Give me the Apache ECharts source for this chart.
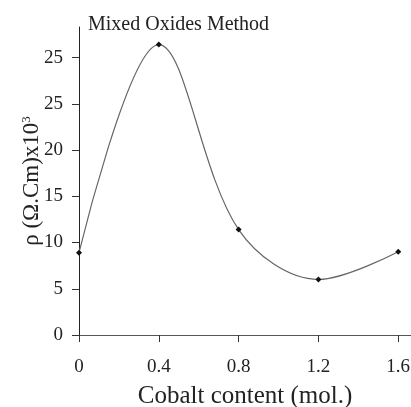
<!DOCTYPE html>
<html lang="en">
<head>
  <meta charset="UTF-8">
  <title>Mixed Oxides Method</title>
  <script src="https://cdnjs.cloudflare.com/ajax/libs/echarts/6.0.0/echarts.min.js"></script>
  <style>
    body { margin: 0; background: #fff; }
  </style>
</head>
<body>
  <div id="main" style="width: 411px;height:407px;"></div>
</body>
<script>
  // cobalt content (mol.)
  var cobalt = [0, 0.4, 0.8, 1.2, 1.6];
  // resistivity, rho (Ohm.Cm) x10^3
  var rho = [8.9, 31.4, 11.4, 6.0, 9.0];
  // tick positions and the labels printed on them (the source really reads 25 twice)
  var xTicks = [0, 0.4, 0.8, 1.2, 1.6];
  var xTickLabels = ['0', '0.4', '0.8', '1.2', '1.6'];
  var yTicks = [0, 5, 10, 15, 20, 25, 30];
  var yTickLabels = ['0', '5', '10', '15', '20', '25', '25'];

  var serif = '"Liberation Serif", "DejaVu Serif", serif';
  var myChart = echarts.init(document.getElementById('main'));

  var points = cobalt.map(function (c, i) { return [c, rho[i]]; });

  var option = {
    animation: false,
    title: {
      text: 'Mixed Oxides Method',
      left: 83,
      top: 10,
      textStyle: { fontFamily: serif, fontSize: 20, fontWeight: 'normal', color: '#222' }
    },
    // keep the plot box fixed, labels may sit near the canvas edge
    grid: { left: 79, right: 0, top: 27, bottom: 72, outerBoundsMode: 'none', containLabel: false },
    xAxis: {
      type: 'value',
      min: 0,
      max: 1.664,
      name: 'Cobalt content (mol.)',
      nameLocation: 'middle',
      nameGap: 49,
      nameTextStyle: { fontFamily: serif, fontSize: 25, color: '#222' },
      splitLine: { show: false },
      axisLine: { lineStyle: { color: '#555', width: 1 } },
      axisTick: { show: true, customValues: xTicks, length: 7, lineStyle: { color: '#333', width: 1 } },
      axisLabel: {
        customValues: xTicks,
        margin: 23,
        fontFamily: serif,
        fontSize: 19,
        color: '#222',
        formatter: function (v) {
          var i = xTicks.indexOf(v);
          return i < 0 ? '' : xTickLabels[i];
        }
      }
    },
    yAxis: {
      type: 'value',
      min: 0,
      max: 33.3,
      name: '{t|ρ (Ω.Cm)x10}{s|3}',
      nameLocation: 'middle',
      nameGap: 36,
      nameMoveOverlap: false,
      nameTextStyle: {
        rich: {
          t: { fontFamily: serif, fontSize: 23, color: '#222' },
          s: { fontFamily: serif, fontSize: 13, color: '#222', verticalAlign: 'top', padding: [0, 0, 10, 0] }
        }
      },
      splitLine: { show: false },
      axisLine: { show: true, lineStyle: { color: '#222', width: 1 } },
      axisTick: { show: true, customValues: yTicks, length: 7, lineStyle: { color: '#333', width: 1 } },
      axisLabel: {
        customValues: yTicks,
        margin: 16,
        padding: [3, 0, 0, 0],
        fontFamily: serif,
        fontSize: 19,
        color: '#222',
        formatter: function (v) {
          var i = yTicks.indexOf(v);
          return i < 0 ? '' : yTickLabels[i];
        }
      }
    },
    series: [
      {
        type: 'line',
        data: points,
        smooth: 0.35,
        symbol: 'diamond',
        symbolSize: 6,
        itemStyle: { color: '#111' },
        lineStyle: { color: '#666', width: 1.2 }
      }
    ]
  };
  myChart.setOption(option);
</script>
</html>
